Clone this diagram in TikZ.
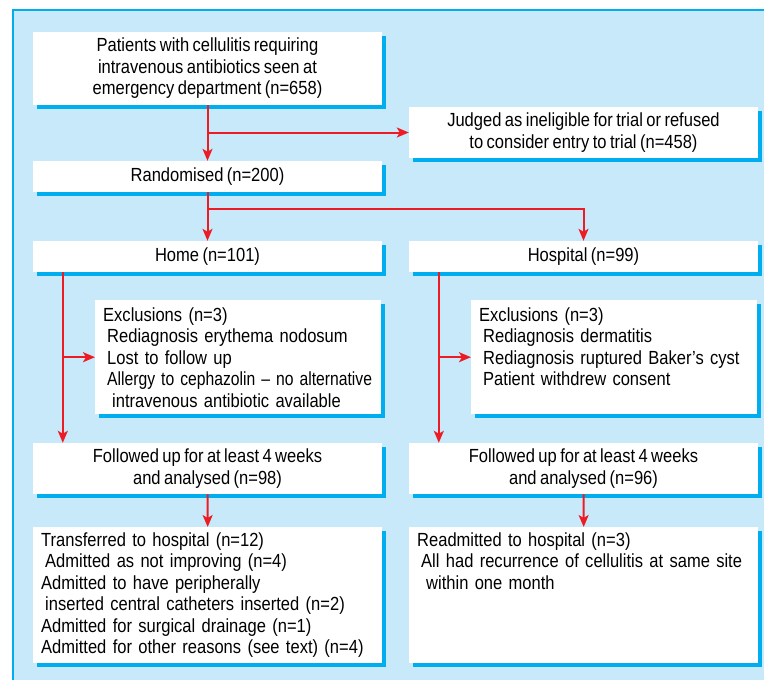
\documentclass[tikz,border=0pt]{standalone}
\usepackage{fontspec}
\usepackage{graphicx}
\setmainfont[FakeStretch=0.87,WordSpace=0.75]{Liberation Sans}
\usetikzlibrary{arrows.meta,shadows}
\definecolor{panelblue}{RGB}{200,233,249}
\definecolor{edgecyan}{RGB}{0,174,239}
\definecolor{flowred}{RGB}{237,28,36}
\begin{document}
\begin{tikzpicture}[x=1pt,y=-1pt,
		flowbox/.style={fill=white, inner sep=0pt, font=\fontsize{19}{21.5}\selectfont,
			drop shadow={shadow xshift=3.5pt,shadow yshift=-3.5pt,fill=edgecyan,opacity=1}},
		midbox/.style={flowbox, align=center, minimum width=349pt},
		listbox/.style={flowbox, anchor=north west, align=left, inner xsep=8pt},
		flow/.style={draw=flowred, line width=2pt, -{Stealth[length=12pt,width=10pt,inset=3pt]}}
	]
	\useasboundingbox (0,0) rectangle (764,680);
	\fill[panelblue] (13,10) rectangle (764,680);
	\draw[edgecyan, line width=1.5pt] (13,680) -- (13,10) -- (764,10);

	% boxes
	\node[midbox, minimum height=73pt] (patients) at (207.5,68.5) {Patients with cellulitis requiring\\ intravenous antibiotics seen at\\ emergency department (n=658)};
	\node[midbox, minimum height=51pt] (judged) at (583.5,132.5) {Judged as ineligible for trial or refused\\ to consider entry to trial (n=458)};
	\node[midbox, minimum height=31pt] (random) at (207.5,176.5) {Randomised (n=200)};
	\node[midbox, minimum height=31pt] (home) at (207.5,256.5) {Home (n=101)};
	\node[midbox, minimum height=31pt] (hospital) at (583.5,256.5) {Hospital (n=99)};
	\node[listbox, text width=270pt, text height=21pt, text depth=93pt] (exclL) at (95,300) {Exclusions (n=3)\\ \hspace*{4pt}Rediagnosis erythema nodosum\\ \hspace*{4pt}Lost to follow up\\ \hspace*{4pt}\scalebox{0.95}[1]{Allergy to cephazolin -- no alternative}\\ \hspace*{9pt}intravenous antibiotic available};
	\node[listbox, text width=270pt, text height=21pt, text depth=93pt] (exclR) at (471,300) {Exclusions (n=3)\\ \hspace*{4pt}Rediagnosis dermatitis\\ \hspace*{4pt}Rediagnosis ruptured Baker's cyst\\ \hspace*{4pt}Patient withdrew consent};
	\node[midbox, minimum height=51pt] (followL) at (207.5,468.5) {Followed up for at least 4 weeks\\ and analysed (n=98)};
	\node[midbox, minimum height=51pt] (followR) at (583.5,468.5) {Followed up for at least 4 weeks\\ and analysed (n=96)};
	\node[listbox, text width=333pt, text height=19pt, text depth=117pt] (transfer) at (33,527) {Transferred to hospital (n=12)\\ \hspace*{4pt}Admitted as not improving (n=4)\\ Admitted to have peripherally\\ \hspace*{4pt}inserted central catheters inserted (n=2)\\ Admitted for surgical drainage (n=1)\\ Admitted for other reasons (see text) (n=4)};
	\node[listbox, text width=333pt, text height=19pt, text depth=117pt] (readmit) at (409,527) {Readmitted to hospital (n=3)\\ \hspace*{4pt}\mbox{All had recurrence of cellulitis at same site}\\ \hspace*{9pt}within one month};

	% arrows
	\draw[flow] (patients.south) -- (random.north);
	\draw[flow] (patients.south |- judged.west) -- (judged.west);
	\draw[flow] (random.south) -- (home.north);
	\draw[flow] (random.south) ++(0,17) -| (hospital.north);
	\coordinate (homeleg) at ([xshift=30pt]home.south west);
	\coordinate (hospleg) at ([xshift=30pt]hospital.south west);
	\draw[flow] (homeleg) -- (homeleg |- followL.north);
	\draw[flow] (homeleg |- exclL.west) -- (exclL.west);
	\draw[flow] (hospleg) -- (hospleg |- followR.north);
	\draw[flow] (hospleg |- exclR.west) -- (exclR.west);
	\draw[flow] (followL.south) -- (transfer.north);
	\draw[flow] (followR.south) -- (readmit.north);
\end{tikzpicture}
\end{document}
